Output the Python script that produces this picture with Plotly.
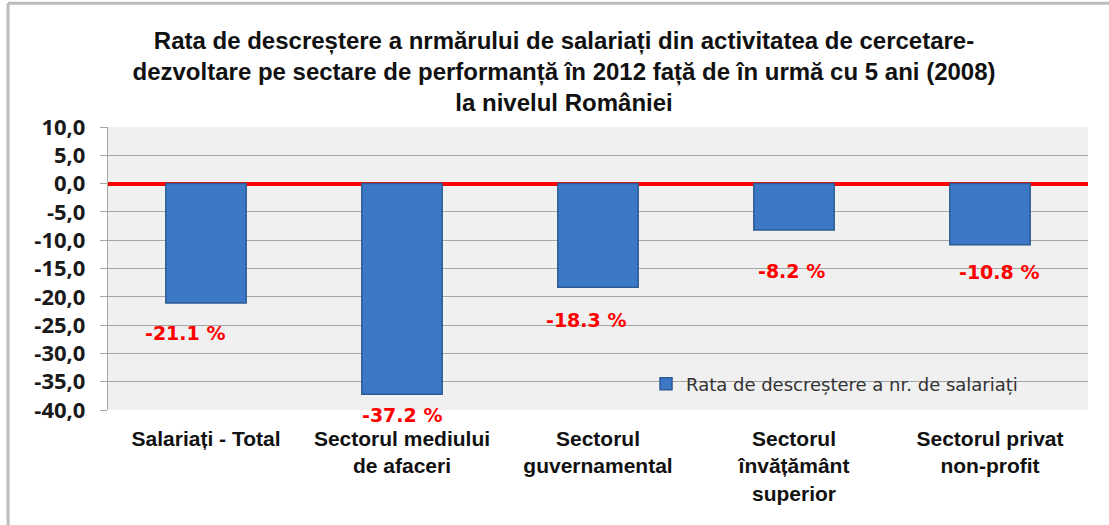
import plotly.graph_objects as go

categories = ["Salariați - Total", "Sectorul mediului<br>de afaceri", "Sectorul<br>guvernamental",
              "Sectorul<br>învățământ<br>superior", "Sectorul privat<br>non-profit"]
values = [-21.1, -37.2, -18.3, -8.2, -10.8]
label_texts = ["-21.1 %", "-37.2 %", "-18.3 %", "-8.2 %", "-10.8 %"]
series_name = "Rata de descreștere a nr. de salariați"
title_text = ("Rata de descreștere a nrmărului de salariați din activitatea de cercetare-<br>"
              "dezvoltare pe sectare de performanță în 2012 față de în urmă cu 5 ani (2008)<br>"
              "la nivelul României")
y_ticks = [10, 5, 0, -5, -10, -15, -20, -25, -30, -35, -40]
y_tick_labels = ["10,0", "5,0", "0,0", "-5,0", "-10,0", "-15,0", "-20,0", "-25,0",
                 "-30,0", "-35,0", "-40,0"]

# label offsets in pixels (styling)
label_yshift = [-30, -21, -33, -41, -27]
label_xshift = [-21, 0, -12, -3, 9]

fig = go.Figure()
fig.add_trace(go.Bar(
    x=categories, y=values, name=series_name,
    marker=dict(color="#3B78C6", line=dict(color="#2C5A93", width=1.5)),
    width=0.41, showlegend=True,
))

for c, v, t, ys, xs in zip(categories, values, label_texts, label_yshift, label_xshift):
    fig.add_annotation(x=c, y=v, text=t, showarrow=False, yshift=ys, xshift=xs,
                       font=dict(family="DejaVu Sans", size=19, color="#FF0000", weight="bold"))

fig.update_layout(
    width=1109, height=525,
    margin=dict(l=108, r=21, t=127, b=115),
    paper_bgcolor="white", plot_bgcolor="#F0F0F0",
    title=dict(text=title_text, x=0.5086, xref="container", xanchor="center",
               y=0.907, yref="container", yanchor="middle",
               font=dict(family="Liberation Sans", size=24, color="#111111", weight="bold")),
    legend=dict(x=0.549, y=0.092, xanchor="left", yanchor="middle", bgcolor="rgba(0,0,0,0)",
                font=dict(family="DejaVu Sans", size=18, color="#333333")),
    xaxis=dict(tickfont=dict(family="Liberation Sans", size=21, color="#111111", weight="bold"),
               showgrid=False, showline=False, ticks="", tickangle=0, ticklabelstandoff=14),
    yaxis=dict(range=[-40, 10], tickvals=y_ticks, ticktext=y_tick_labels,
               tickfont=dict(family="Open Sans", size=22, color="#1A1A1A", weight="bold"),
               showgrid=True, gridcolor="#A6A6A6", gridwidth=1.3,
               zeroline=True, zerolinecolor="#FF0000", zerolinewidth=4,
               showline=True, linecolor="#A6A6A6", linewidth=1.3,
               ticks="outside", ticklen=7, tickcolor="#A6A6A6", ticklabelstandoff=10),
    shapes=[
        dict(type="line", xref="paper", yref="paper", x0=-0.102, x1=1.03, y0=1.437, y1=1.437,
             line=dict(color="#BDBDBD", width=3)),
        dict(type="line", xref="paper", yref="paper", x0=-0.102, x1=-0.102, y0=1.437, y1=-0.41,
             line=dict(color="#BDBDBD", width=3)),
    ],
)

fig.write_html("out.html", config={"displayModeBar": False},
               post_script="document.body.style.margin='0';")
